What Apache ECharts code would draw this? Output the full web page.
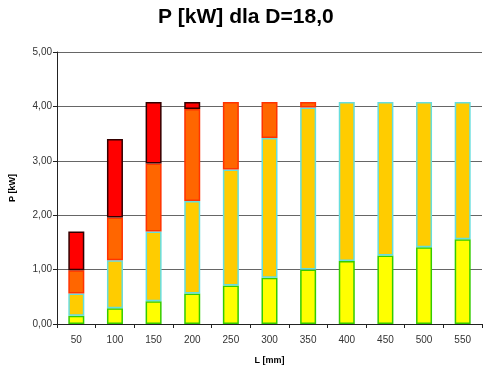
<!DOCTYPE html>
<html><head><meta charset="utf-8">
<script src="https://cdn.jsdelivr.net/npm/echarts@6/dist/echarts.min.js"></script>
<style>html,body{margin:0;padding:0;background:#fff}#c{width:500px;height:370px}</style>
</head><body><div id="c"></div>
<script>
const categories = ['50','100','150','200','250','300','350','400','450','500','550'];
const yellowSeg = [0.15,0.29,0.42,0.56,0.71,0.85,1.00,1.16,1.26,1.41,1.56];
const goldSeg   = [0.41,0.88,1.28,1.70,2.13,2.57,2.98,2.92,2.82,2.67,2.52];
const orangeSeg = [0.43,0.79,1.25,1.69,1.24,0.66,0.10,'-','-','-','-'];
const redSeg    = [0.71,1.44,1.13,0.13,'-','-','-','-','-','-','-'];

const chart = echarts.init(document.getElementById('c'), null, {renderer:'canvas'});
function seg(name, data, color, border){
  return {name, type:'bar', stack:'p', data, barWidth:16,
    itemStyle:{color, borderColor:border, borderWidth:1.5}};
}
chart.setOption({
  animation:false,
  title:{text:'P [kW] dla D=18,0', left:153, top:2,
    textStyle:{fontFamily:'Liberation Sans', fontWeight:'bold', fontSize:21, color:'#000'}},
  grid:{left:51, right:18, top:52, bottom:44},
  xAxis:{type:'category', data:categories, name:'L [mm]', nameLocation:'middle', nameGap:32,
    nameTextStyle:{fontFamily:'Liberation Sans', fontWeight:'bold', fontSize:9, color:'#000'},
    axisLine:{lineStyle:{color:'#222', width:1}},
    axisTick:{show:true, length:4, lineStyle:{color:'#222'}},
    axisLabel:{fontFamily:'Liberation Sans', fontSize:10, color:'#333', margin:11}},
  yAxis:{type:'value', min:0, max:5, interval:1, name:'P [kW]', nameLocation:'middle', nameGap:40,
    nameTextStyle:{fontFamily:'Liberation Sans', fontWeight:'bold', fontSize:9, color:'#000'},
    axisLine:{show:true, lineStyle:{color:'#222', width:1}},
    axisTick:{show:true, length:4, lineStyle:{color:'#222'}},
    splitLine:{lineStyle:{color:'#666', width:1}},
    axisLabel:{fontFamily:'Liberation Sans', fontSize:10, color:'#333', margin:5,
      formatter:v=>v.toFixed(2).replace('.',',')}},
  series:[
    seg('s1', yellowSeg, '#ffff00', '#33cc00'),
    seg('s2', goldSeg, '#ffcc00', '#66dddd'),
    seg('s3', orangeSeg, '#ff6600', '#ff3300'),
    seg('s4', redSeg, '#ff0000', '#330000')
  ]
});
</script></body></html>
